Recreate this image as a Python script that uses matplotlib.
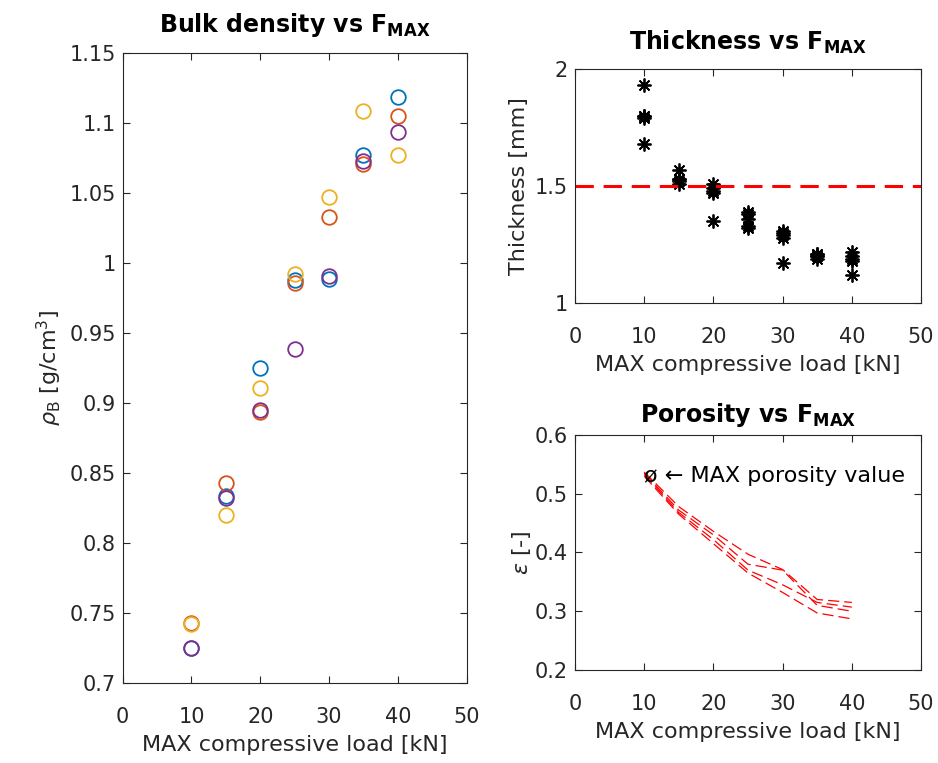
import matplotlib
matplotlib.use("Agg")
import matplotlib.pyplot as plt
import numpy as np

plt.rcParams['font.family'] = ['DejaVu Sans']
plt.rcParams['mathtext.fontset'] = 'dejavusans'

# ---------------- data ----------------
loads = [10, 15, 20, 25, 30, 35, 40]

density_blue = [0.725, 0.834, 0.925, 0.988, 0.989, 1.077, 1.119]
density_red = [0.743, 0.843, 0.894, 0.986, 1.033, 1.071, 1.105]
density_yellow = [0.742, 0.820, 0.911, 0.992, 1.047, 1.109, 1.077]
density_purple = [0.725, 0.832, 0.895, 0.939, 0.991, 1.073, 1.094]

thickness_10 = [1.93, 1.80, 1.79, 1.80, 1.68]
thickness_15 = [1.57, 1.53, 1.52, 1.51, 1.53]
thickness_20 = [1.51, 1.48, 1.47, 1.35, 1.49]
thickness_25 = [1.39, 1.38, 1.33, 1.32, 1.36]
thickness_30 = [1.31, 1.29, 1.28, 1.17, 1.30]
thickness_35 = [1.21, 1.20, 1.20, 1.19, 1.21]
thickness_40 = [1.22, 1.19, 1.18, 1.12, 1.20]
thickness_limit = 1.5

porosity_1 = [0.537, 0.478, 0.436, 0.397, 0.371, 0.320, 0.315]
porosity_2 = [0.535, 0.472, 0.430, 0.380, 0.370, 0.310, 0.300]
porosity_3 = [0.533, 0.468, 0.422, 0.370, 0.345, 0.315, 0.307]
porosity_4 = [0.530, 0.465, 0.415, 0.365, 0.332, 0.297, 0.287]

max_porosity_x = 10
max_porosity_y = 0.53

# ---------------- style ----------------
blue = '#0072BD'
red = '#D95319'
yellow = '#EDB120'
purple = '#7E2F8E'
axcol = '#262626'

TICK = 15
LAB = 16
TIT = 17

fig = plt.figure(figsize=(9.38, 7.63), dpi=100)

def style(ax):
    ax.tick_params(direction='in', top=True, right=True, length=5, width=0.8,
                   colors=axcol, labelsize=TICK, labelcolor=axcol)
    ax.tick_params(axis='y', pad=5)
    ax.tick_params(axis='x', pad=17)
    for s in ax.spines.values():
        s.set_color(axcol)
        s.set_linewidth(0.8)

# Left: bulk density
ax1 = fig.add_axes([0.1308, 0.1045, 0.3667, 0.8257])
for vals, c in [(density_blue, blue), (density_red, red),
                (density_yellow, yellow), (density_purple, purple)]:
    ax1.plot(loads, vals, 'o', ms=10.5, mfc='none', mec=c, mew=1.3)
ax1.set_xlim(0, 50)
ax1.set_ylim(0.7, 1.15)
ax1.set_xticks([0, 10, 20, 30, 40, 50])
ax1.set_yticks(np.round(np.arange(0.7, 1.1501, 0.05), 2))
ax1.set_yticklabels(['0.7', '0.75', '0.8', '0.85', '0.9', '0.95', '1', '1.05', '1.1', '1.15'])
style(ax1)
ax1.set_xlabel('MAX compressive load [kN]', fontsize=LAB, color=axcol, labelpad=6)
ax1.set_ylabel(r'$\rho_{\mathrm{B}}$ [g/cm$^{3}$]', fontsize=LAB, color=axcol)
ax1.set_title(r'Bulk density vs F$_{\mathbf{MAX}}$', fontsize=TIT, fontweight='bold', pad=15)

# Top right: thickness
ax2 = fig.add_axes([0.613, 0.6025, 0.3689, 0.3071])
thick_all = [thickness_10, thickness_15, thickness_20, thickness_25,
             thickness_30, thickness_35, thickness_40]
for x, vals in zip(loads, thick_all):
    ax2.plot([x] * len(vals), vals, linestyle='none', marker=(8, 2, 0), ms=10,
             mec='black', mew=1.3)
ax2.axhline(thickness_limit, color='red', lw=2.2, dashes=(6, 3.2))
ax2.set_xlim(0, 50)
ax2.set_ylim(1, 2)
ax2.set_xticks([0, 10, 20, 30, 40, 50])
ax2.set_yticks([1, 1.5, 2])
ax2.set_yticklabels(['1', '1.5', '2'])
style(ax2)
ax2.set_xlabel('MAX compressive load [kN]', fontsize=LAB, color=axcol, labelpad=6)
ax2.set_ylabel('Thickness [mm]', fontsize=LAB, color=axcol)
ax2.set_title(r'Thickness vs F$_{\mathbf{MAX}}$', fontsize=TIT, fontweight='bold', pad=14)

# Bottom right: porosity
ax3 = fig.add_axes([0.613, 0.1219, 0.3689, 0.308])
for vals in [porosity_1, porosity_2, porosity_3, porosity_4]:
    ax3.plot(loads, vals, color='red', lw=0.9, dashes=(9, 4))
ax3.text(max_porosity_x, max_porosity_y, '\u00f8 \u2190 MAX porosity value',
         fontsize=LAB, ha='left', va='center', color='black')
ax3.set_xlim(0, 50)
ax3.set_ylim(0.2, 0.6)
ax3.set_xticks([0, 10, 20, 30, 40, 50])
ax3.set_yticks([0.2, 0.3, 0.4, 0.5, 0.6])
ax3.set_yticklabels(['0.2', '0.3', '0.4', '0.5', '0.6'])
style(ax3)
ax3.set_xlabel('MAX compressive load [kN]', fontsize=LAB, color=axcol, labelpad=6)
ax3.set_ylabel(r'$\epsilon$ [-]', fontsize=LAB, color=axcol, labelpad=1)
ax3.set_title(r'Porosity vs F$_{\mathbf{MAX}}$', fontsize=TIT, fontweight='bold', pad=9)

fig.savefig('out.png', dpi=100)
